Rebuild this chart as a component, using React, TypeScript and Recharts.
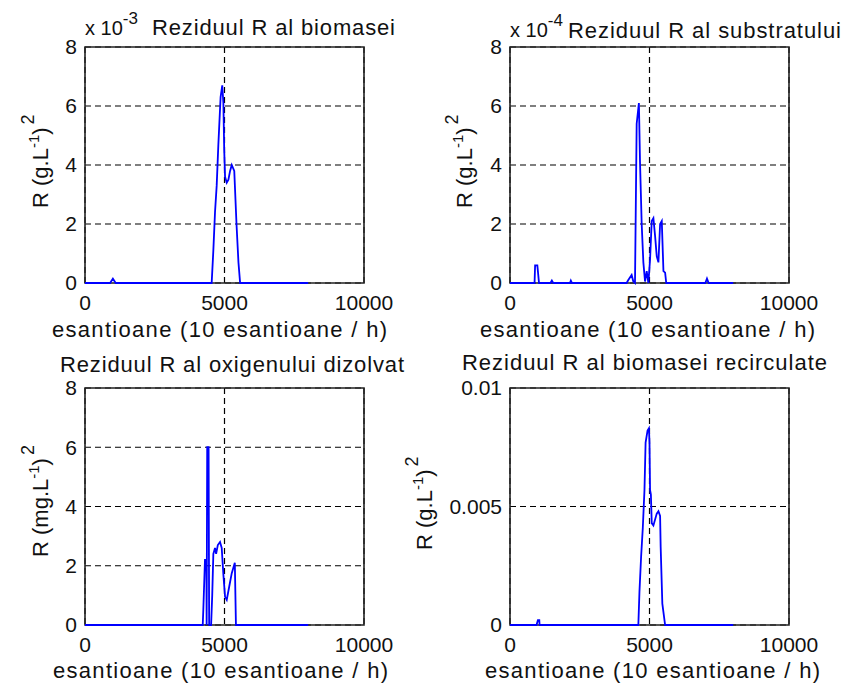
import React from 'react';
import { LineChart, Line, XAxis, YAxis, CartesianGrid, ReferenceArea } from 'recharts';

const xTicks = [0, 5000, 10000];
const yTicks = [0, 2, 4, 6, 8];
const yTicksRecirc = [0, 0.005, 0.01];

// Reziduul R al biomasei (x 10^-3)
const biomasaX = [0, 900, 1000, 1100, 4540, 4600, 4660, 4720, 4780, 4860, 4920, 4960, 4990, 5020, 5080, 5140, 5200, 5260, 5350, 5430, 5500, 5560, 8000];
const biomasaY = [0, 0, 0.15, 0, 0, 1.1, 2.4, 3.3, 4.7, 6.3, 6.7, 6.1, 4.5, 3.6, 3.4, 3.5, 3.8, 4.0, 3.8, 2.0, 0.7, 0, 0];

// Reziduul R al substratului (x 10^-4)
const substratX = [0, 880, 900, 980, 1000, 1040, 1450, 1500, 1550, 2150, 2180, 2220, 4180, 4240, 4360, 4420, 4480, 4540, 4620, 4660, 4720, 4780, 4840, 4900, 4960, 5020, 5080, 5140, 5200, 5260, 5320, 5380, 5440, 5500, 5560, 5600, 7000, 7060, 7120, 8000];
const substratY = [0, 0, 0.6, 0.6, 0.4, 0, 0, 0.08, 0, 0, 0.08, 0, 0, 0.1, 0.27, 0.05, 0, 5.4, 6.1, 4.1, 2.0, 0.7, 0.05, 0.4, 0, 0.8, 2.1, 2.2, 1.6, 0.9, 0.7, 2.0, 2.1, 0.4, 0.35, 0, 0, 0.15, 0, 0];

// Reziduul R al oxigenului dizolvat
const oxigenX = [0, 4220, 4240, 4300, 4350, 4360, 4380, 4430, 4450, 4520, 4560, 4600, 4660, 4700, 4760, 4840, 4900, 4960, 5020, 5080, 5170, 5260, 5370, 5410, 8000];
const oxigenY = [0, 0, 0.5, 2.2, 2.2, 0, 6.0, 6.0, 0, 0, 1.0, 2.4, 2.6, 2.4, 2.7, 2.8, 2.6, 1.7, 0.95, 0.85, 1.3, 1.75, 2.1, 0, 0];

// Reziduul R al biomasei recirculate
const recircX = [0, 950, 1000, 1050, 1060, 4600, 4640, 4700, 4760, 4820, 4860, 4930, 4980, 5000, 5020, 5050, 5080, 5140, 5260, 5320, 5380, 5400, 5460, 5560, 8000];
const recircY = [0, 0, 0.0002, 0.0002, 0, 0, 0.0014, 0.0029, 0.0041, 0.0057, 0.0077, 0.0082, 0.0083, 0.0077, 0.0057, 0.0055, 0.0043, 0.0042, 0.0047, 0.0048, 0.0046, 0.0033, 0.0009, 0, 0];

const W = 845;
const H = 683;
const FONT = '"Liberation Sans", Arial, sans-serif';
const TXT = '#111';

const zip = (xs: number[], ys: number[]) => xs.map((x, i) => ({ x, y: ys[i] }));

type Box = { x0: number; x1: number; y0: number; y1: number };

function Panel({ data, box, ticks, fmt }: { data: { x: number; y: number }[]; box: Box; ticks: number[]; fmt?: (v: number) => string }) {
  const yw = 60;
  const xh = 30;
  const margin = { left: box.x0 - yw, right: W - box.x1, top: box.y0, bottom: H - box.y1 - xh };
  const ymax = ticks[ticks.length - 1];
  return (
    <div style={{ position: 'absolute', left: 0, top: 0 }}>
      <LineChart width={W} height={H} data={data} margin={margin}>
        <CartesianGrid stroke="#000" strokeDasharray="6 4" strokeWidth={1.2} />
        <XAxis dataKey="x" type="number" domain={[0, 10000]} ticks={xTicks} height={xh}
          axisLine={false} tickLine={false} tickSize={0} tickMargin={12}
          tick={{ fill: TXT, fontSize: 21, fontFamily: FONT }} />
        <YAxis type="number" domain={[0, ymax]} ticks={ticks} width={yw}
          axisLine={false} tickLine={false} tickSize={0} tickMargin={8}
          tickFormatter={fmt} tick={{ fill: TXT, fontSize: 21, fontFamily: FONT }} />
        <ReferenceArea x1={0} x2={10000} y1={0} y2={ymax} fill="none" fillOpacity={0} stroke="#222" strokeWidth={1.6} />
        <Line type="linear" dataKey="y" stroke="#0000ff" strokeWidth={1.8} dot={false} isAnimationActive={false} />
      </LineChart>
    </div>
  );
}

function YLabel({ x, y, unit }: { x: number; y: number; unit: string }) {
  return (
    <text transform={`translate(${x},${y}) rotate(-90)`} fontSize={22} fill={TXT} fontFamily={FONT}>
      {`R (${unit}.L`}
      <tspan dy={-9} fontSize={15}>-1</tspan>
      <tspan dy={9}>)</tspan>
      <tspan dy={-14} dx={3} fontSize={18}>2</tspan>
    </text>
  );
}

function Exp({ x, y, p }: { x: number; y: number; p: string }) {
  return (
    <text x={x} y={y} fontSize={20} fill={TXT} fontFamily={FONT}>
      x 10<tspan dy={-11} fontSize={17}>{p}</tspan>
    </text>
  );
}

function Title({ x0, x1, y, children }: { x0: number; x1: number; y: number; children: string }) {
  return (
    <text x={x0} y={y} textLength={x1 - x0} lengthAdjust="spacing" fontSize={22} fill={TXT} fontFamily={FONT}>
      {children}
    </text>
  );
}

export default function App() {
  const xLabel = 'esantioane (10 esantioane / h)';
  return (
    <div style={{ position: 'absolute', left: 0, top: 0, width: W, height: H, background: '#fff' }}>
      <Panel data={zip(biomasaX, biomasaY)} box={{ x0: 85, x1: 364, y0: 47, y1: 283 }} ticks={yTicks} />
      <Panel data={zip(substratX, substratY)} box={{ x0: 510, x1: 789, y0: 47, y1: 283 }} ticks={yTicks} />
      <Panel data={zip(oxigenX, oxigenY)} box={{ x0: 85, x1: 364, y0: 388, y1: 625 }} ticks={yTicks} />
      <Panel data={zip(recircX, recircY)} box={{ x0: 510, x1: 789, y0: 388, y1: 625 }} ticks={yTicksRecirc}
        fmt={(v) => (v === 0 ? '0' : String(v))} />
      <svg width={W} height={H} style={{ position: 'absolute', left: 0, top: 0 }}>
        <Exp x={85} y={35} p="-3" />
        <Title x0={152} x1={395} y={35}>Reziduul R al biomasei</Title>
        <Exp x={510} y={37} p="-4" />
        <Title x0={568} x1={841} y={38}>Reziduul R al substratului</Title>
        <Title x0={60} x1={404} y={372}>Reziduul R al oxigenului dizolvat</Title>
        <Title x0={462} x1={827} y={370}>Reziduul R al biomasei recirculate</Title>

        <Title x0={52} x1={387} y={337}>{xLabel}</Title>
        <Title x0={480} x1={815} y={337}>{xLabel}</Title>
        <Title x0={53} x1={388} y={678}>{xLabel}</Title>
        <Title x0={485} x1={820} y={678}>{xLabel}</Title>

        <YLabel x={48} y={208} unit="g" />
        <YLabel x={472} y={208} unit="g" />
        <YLabel x={48} y={557} unit="mg" />
        <YLabel x={432} y={550} unit="g" />
      </svg>
    </div>
  );
}
